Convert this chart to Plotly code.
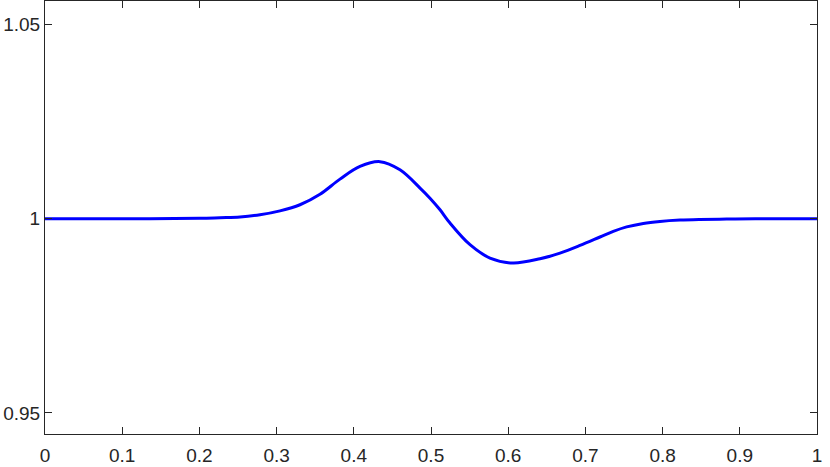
import plotly.graph_objects as go

# values
x_vals = [0.0, 0.1, 0.2, 0.2267, 0.2526, 0.2785, 0.3044, 0.3303, 0.3562, 0.3821, 0.408, 0.4339,
          0.4598, 0.4858, 0.4987, 0.5117, 0.5246, 0.5505, 0.5764, 0.6062, 0.6412,
          0.6671, 0.693, 0.7189, 0.7361, 0.7534, 0.775, 0.7966, 0.8225, 0.848, 0.883, 0.92, 1.0]
y_vals = [1.0, 1.0, 1.0001, 1.00026, 1.00044, 1.00103, 1.00203, 1.0036, 1.0063, 1.0102, 1.01346, 1.0147,
          1.0126, 1.0079, 1.0053, 1.0023, 0.99889, 0.99331, 0.98988, 0.9886, 0.9897,
          0.99117, 0.99313, 0.9953, 0.99675, 0.9979, 0.9988, 0.99931, 0.99966, 0.99982, 0.99992, 1.0, 1.0]

x_ticks = [0, 0.1, 0.2, 0.3, 0.4, 0.5, 0.6, 0.7, 0.8, 0.9, 1]
x_labels = ["0", "0.1", "0.2", "0.3", "0.4", "0.5", "0.6", "0.7", "0.8", "0.9", "1"]
y_ticks = [0.95, 1, 1.05]
y_labels = ["0.95", "1", "1.05"]

fig = go.Figure()
fig.add_trace(go.Scatter(x=x_vals, y=y_vals, mode="lines",
                         line=dict(color="#0000ff", width=3, shape="spline", smoothing=1)))

axcol = "#262626"
tickfont = dict(family="Liberation Sans, Arial, sans-serif", size=19, color=axcol)
fig.update_layout(
    width=830, height=467,
    margin=dict(l=45, r=13, t=1, b=33),
    plot_bgcolor="white", paper_bgcolor="white",
    showlegend=False,
    font=tickfont,
)
fig.update_xaxes(range=[0, 1], tickvals=x_ticks, ticktext=x_labels, tickfont=tickfont,
                 automargin=False, ticklabelstandoff=4,
                 showline=True, linecolor=axcol, linewidth=1, mirror="ticks",
                 ticks="inside", ticklen=7, tickcolor=axcol, showgrid=False, zeroline=False)
fig.update_yaxes(range=[0.94459, 1.05605], tickvals=y_ticks, ticktext=y_labels, tickfont=tickfont,
                 automargin=False,
                 showline=True, linecolor=axcol, linewidth=1, mirror="ticks",
                 ticks="inside", ticklen=7, tickcolor=axcol, showgrid=False, zeroline=False)

# browser default body margin shifts the plot, drop it
fig.write_html("out.html", config={"displayModeBar": False},
               post_script="document.body.style.margin='0';")
